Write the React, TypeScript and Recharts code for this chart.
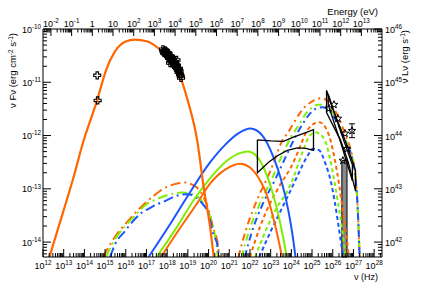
import { ComposedChart, Line, Scatter, XAxis, YAxis, ReferenceArea, ErrorBar } from "recharts";

type P = [number, number];

const mainSync: P[] = [
  [12.31, -14.28], [13.0, -13.4], [13.5, -12.75], [13.92, -12.15], [14.3, -11.7], [14.63, -11.32],
  [14.84, -11.03], [15.05, -10.77], [15.48, -10.42], [15.97, -10.24], [16.45, -10.2], [17.0, -10.23],
  [17.6, -10.37], [18.1, -10.58], [18.63, -10.9], [19.0, -11.35], [19.45, -12.09], [19.79, -13.04],
  [20.05, -13.65], [20.25, -14.28],
];

const solidBlue: P[] = [
  [17.1, -14.28], [18.0, -13.75], [19.0, -13.13], [20.08, -12.5], [20.81, -12.17], [21.44, -11.96],
  [22.02, -11.87], [22.6, -12.0], [23.13, -12.4], [23.5, -12.82], [23.86, -13.42], [24.1, -13.98], [24.2, -14.28],
];
const solidGreen: P[] = [
  [17.49, -14.28], [18.5, -13.7], [19.3, -13.2], [20.08, -12.8], [20.9, -12.47], [21.5, -12.33],
  [21.9, -12.3], [22.3, -12.38], [22.84, -12.77], [23.33, -13.42], [23.6, -13.9], [23.78, -14.28],
];
const solidOrange: P[] = [
  [17.7, -14.28], [18.6, -13.75], [19.4, -13.3], [20.08, -12.9], [20.8, -12.64], [21.53, -12.53],
  [22.0, -12.6], [22.5, -12.85], [22.75, -13.05], [23.13, -13.55], [23.4, -14.0], [23.55, -14.28],
];

const ddOrange: P[] = [
  [14.9, -14.28], [15.48, -13.9], [16.07, -13.62], [16.69, -13.36], [17.32, -13.14], [17.81, -13.0],
  [18.49, -12.9], [18.87, -12.88], [19.21, -12.92], [19.45, -12.98], [19.75, -13.15], [19.99, -13.38],
  [20.23, -13.74], [20.42, -13.98], [20.52, -14.28],
];
const ddGreen: P[] = [
  [15.05, -14.28], [15.34, -14.04], [15.73, -13.81], [15.97, -13.7], [16.5, -13.48], [17.03, -13.28],
  [17.52, -13.19], [18.29, -13.09], [18.73, -13.07], [19.2, -13.1], [19.6, -13.19], [19.75, -13.28],
  [20.18, -13.66], [20.33, -13.92], [20.45, -14.28],
];
const ddBlue: P[] = [
  [15.24, -14.28], [15.48, -14.04], [15.97, -13.79], [16.11, -13.72], [16.84, -13.43], [17.08, -13.38],
  [17.57, -13.28], [17.9, -13.23], [18.39, -13.14], [19.0, -13.1], [19.35, -13.15], [19.7, -13.28],
  [20.0, -13.47], [20.23, -13.85], [20.42, -14.04], [20.5, -14.28],
];

const lddOrange: P[] = [
  [21.44, -14.28], [21.8, -13.78], [22.3, -13.25], [22.99, -12.66], [23.23, -12.42], [23.57, -12.09],
  [23.81, -11.96], [24.34, -11.62], [24.58, -11.49], [24.92, -11.38], [25.45, -11.3], [25.89, -11.4],
  [26.23, -11.62], [26.62, -12.0], [26.96, -12.42], [27.1, -12.75], [27.2, -13.32], [27.3, -14.28],
];
const lddGreen: P[] = [
  [21.6, -14.28], [21.95, -13.8], [22.45, -13.3], [23.1, -12.78], [23.6, -12.33], [24.0, -12.02],
  [24.4, -11.78], [24.68, -11.6], [24.92, -11.5], [25.3, -11.42], [25.6, -11.43], [25.95, -11.55],
  [26.3, -11.8], [26.65, -12.12], [26.96, -12.45], [27.1, -12.78], [27.2, -13.32], [27.3, -14.28],
];
const lddBlue: P[] = [
  [21.75, -14.28], [22.1, -13.8], [22.6, -13.3], [23.25, -12.8], [23.75, -12.38], [24.2, -12.02],
  [24.6, -11.75], [24.92, -11.58], [25.17, -11.5], [25.5, -11.47], [25.8, -11.52], [26.2, -11.75],
  [26.6, -12.1], [26.96, -12.47], [27.1, -12.8], [27.2, -13.32], [27.3, -14.28],
];

const sdOrange: P[] = [
  [22.0, -14.28], [22.5, -13.7], [23.0, -13.25], [23.5, -12.9], [24.0, -12.58], [24.35, -12.28],
  [24.7, -11.95], [25.0, -11.8], [25.35, -11.75], [25.65, -11.85], [25.9, -12.1], [26.1, -12.45],
  [26.3, -12.9], [26.5, -13.45], [26.65, -13.85], [26.78, -14.28],
];
const sdGreen: P[] = [
  [22.25, -14.28], [22.8, -13.75], [23.3, -13.35], [23.8, -13.05], [24.1, -12.79], [24.5, -12.35],
  [24.83, -12.04], [25.15, -11.94], [25.55, -12.04], [25.85, -12.4], [26.05, -12.8], [26.25, -13.25],
  [26.45, -13.75], [26.62, -14.28],
];
const sdBlue: P[] = [
  [22.45, -14.28], [23.0, -13.8], [23.5, -13.4], [24.0, -13.0], [24.34, -12.72], [24.78, -12.38],
  [25.05, -12.25], [25.35, -12.28], [25.65, -12.53], [25.9, -12.85], [26.1, -13.25], [26.3, -13.75], [26.5, -14.28],
];

// Fermi-LAT butterfly (outline, closed)
const lat: P[] = [
  [22.36, -12.08], [23.0, -12.1], [23.62, -12.11], [24.1, -12.03], [24.6, -11.96], [25.07, -11.89],
  [25.07, -12.28], [24.7, -12.24], [24.3, -12.23], [23.8, -12.28], [23.33, -12.38], [22.9, -12.5],
  [22.36, -12.7], [22.36, -12.08],
];
// VHE butterflies
const vheA: P[] = [
  [25.7, -11.15], [26.0, -11.5], [26.38, -11.87], [26.75, -12.25], [27.1, -12.66], [27.1, -13.04],
  [26.75, -12.5], [26.38, -12.09], [26.0, -11.8], [25.7, -11.57], [25.7, -11.15],
];
const vheB: P[] = [
  [25.78, -11.22], [26.4, -11.95], [26.95, -12.55], [26.95, -12.85], [26.4, -12.15], [25.78, -11.42], [25.78, -11.22],
];
const vheBand = { x1: 26.44, x2: 26.69, top: -12.47 };

const optical: P[] = [[14.62, -10.87], [14.64, -11.34]];
const xray: P[] = [
  [17.8, -10.38], [17.82, -10.42], [17.85, -10.45], [17.9, -10.4], [17.92, -10.47], [17.94, -10.42],
  [17.99, -10.49], [18.0, -10.44], [18.04, -10.45], [18.06, -10.52], [18.09, -10.55], [18.12, -10.5],
  [18.14, -10.64], [18.16, -10.58], [18.18, -10.51], [18.21, -10.55], [18.23, -10.6], [18.26, -10.64],
  [18.28, -10.57], [18.3, -10.61], [18.33, -10.66], [18.36, -10.69], [18.38, -10.62], [18.41, -10.66],
  [18.43, -10.72], [18.45, -10.58], [18.47, -10.68], [18.49, -10.74], [18.52, -10.77], [18.55, -10.81],
  [18.57, -10.74], [18.6, -10.79], [18.62, -10.85], [18.65, -10.88], [18.67, -10.92],
];
const vhe: P[] = [[25.82, -11.49], [26.06, -11.42], [26.25, -11.68], [26.59, -11.96], [26.69, -12.25], [26.49, -12.47]];
const vheErr = { x: 26.93, y: -11.91, err: 0.13 };

// axes
const NU_RANGE: P = [12, 28.38];
const F_RANGE: P = [-14.28, -10];
const EV_TO_HZ = 14.383; // log10(1 eV / h)
const L_OFFSET = 56; // nuLnu = 10^56 * nuFnu (paired right axis)

const ORANGE = "#ff6600";
const GREEN = "#80ee00";
const BLUE = "#1a55ff";
const FONT = "'Liberation Sans', Arial, Helvetica, sans-serif";

const W = 421;
const H = 286;
// axes are 1px thick boxes, so the frame ends up at x 43..382, y 29..257
const M = { top: 28, right: 38, bottom: 28, left: 42 };

const pts = (a: P[]) => a.map(([x, y]) => ({ x, y }));

function logTicks(min: number, max: number) {
  const t: number[] = [];
  for (let n = Math.floor(min); n <= Math.ceil(max); n++) {
    for (let k = 1; k < 10; k++) {
      const v = n + Math.log10(k);
      if (v >= min - 1e-9 && v <= max + 1e-9) t.push(v);
    }
  }
  return t;
}
const isMajor = (v: number) => Math.abs(v - Math.round(v)) < 1e-6;

function Pow({ x, y, n, anchor, plain }: { x: number; y: number; n: number; anchor: string; plain?: boolean }) {
  const common = { x, y, textAnchor: anchor as any, fontSize: 9, fill: "#000", fontFamily: FONT };
  if (plain && n === 0) return <text {...common}>1</text>;
  if (plain && n === 1) return <text {...common}>10</text>;
  return (
    <text {...common}>
      10<tspan dy={-3.8} fontSize={6.3}>{n}</tspan>
    </text>
  );
}

const BottomTick = (p: any) => {
  const v = p.payload.value;
  const major = isMajor(v);
  return (
    <g>
      <line x1={p.x} y1={p.y} x2={p.x} y2={p.y - (major ? 8 : 4)} stroke="#000" />
      {major && <Pow x={p.x} y={p.y + 12} n={Math.round(v)} anchor="middle" />}
    </g>
  );
};
const TopTick = (p: any) => {
  const v = p.payload.value;
  const major = isMajor(v);
  return (
    <g>
      <line x1={p.x} y1={p.y} x2={p.x} y2={p.y + (major ? 7 : 3.5)} stroke="#000" />
      {major && <Pow x={p.x} y={p.y - 2.5} n={Math.round(v)} anchor="middle" plain />}
    </g>
  );
};
const LeftTick = (p: any) => {
  const v = p.payload.value;
  const major = isMajor(v);
  return (
    <g>
      <line x1={p.x} y1={p.y} x2={p.x + (major ? 8 : 4)} y2={p.y} stroke="#000" />
      {major && <Pow x={p.x - 2} y={p.y + 3.5} n={Math.round(v)} anchor="end" />}
    </g>
  );
};
const RightTick = (p: any) => {
  const v = p.payload.value;
  const major = isMajor(v);
  return (
    <g>
      <line x1={p.x} y1={p.y} x2={p.x - (major ? 8 : 4)} y2={p.y} stroke="#000" />
      {major && <Pow x={p.x + 3} y={p.y + 4} n={Math.round(v)} anchor="start" />}
    </g>
  );
};

const titleStyle = { fontSize: 9.5, fill: "#000", fontFamily: FONT };

const NuTitle = () => (
  <text x={W - 43} y={H - 6} textAnchor="end" {...titleStyle} fontSize={9}>ν (Hz)</text>
);
const EnergyTitle = () => (
  <text x={W - 43} y={15} textAnchor="end" {...titleStyle}>Energy (eV)</text>
);
const FluxTitle = () => (
  <text x={16} y={33} textAnchor="end" transform="rotate(-90 16 33)" {...titleStyle}>
    ν Fν (erg cm<tspan dy={-3.5} fontSize={6.5}>-2</tspan>
    <tspan dy={3.5}> s</tspan>
    <tspan dy={-3.5} fontSize={6.5}>-1</tspan>
    <tspan dy={3.5}>)</tspan>
  </text>
);
const LumTitle = () => (
  <text x={408} y={30} textAnchor="end" transform="rotate(-90 408 30)" {...titleStyle}>
    ν Lν (erg s<tspan dy={-3.5} fontSize={6.5}>-1</tspan>
    <tspan dy={3.5}>)</tspan>
  </text>
);

const OpenCross = (p: any) => {
  const { cx, cy } = p;
  const s = 3.5;
  const a = 1.2;
  const d = `M${cx - a},${cy - s}H${cx + a}V${cy - a}H${cx + s}V${cy + a}H${cx + a}V${cy + s}H${cx - a}V${cy + a}H${cx - s}V${cy - a}H${cx - a}Z`;
  return <path d={d} fill="none" stroke="#000" strokeWidth={1.1} />;
};

const OpenStar = (p: any) => {
  const { cx, cy } = p;
  const r1 = 4;
  const r2 = 1.7;
  let d = "";
  for (let i = 0; i < 10; i++) {
    const r = i % 2 === 0 ? r1 : r2;
    const ang = -Math.PI / 2 + (i * Math.PI) / 5;
    d += `${i === 0 ? "M" : "L"}${cx + r * Math.cos(ang)},${cy + r * Math.sin(ang)}`;
  }
  return <path d={d + "Z"} fill="none" stroke="#000" strokeWidth={1} />;
};

const AX = { xAxisId: "nu", yAxisId: "flux" };

function curve(key: string, data: P[], color: string, dash?: string, width = 2) {
  return (
    <Line
      key={key}
      {...AX}
      data={pts(data)}
      dataKey="y"
      type="monotone"
      stroke={color}
      strokeWidth={width}
      strokeDasharray={dash}
      dot={false}
      activeDot={false}
      isAnimationActive={false}
    />
  );
}

function outline(key: string, data: P[]) {
  return (
    <Line
      key={key}
      {...AX}
      data={pts(data)}
      dataKey="y"
      type="linear"
      stroke="#000"
      strokeWidth={1.3}
      dot={false}
      activeDot={false}
      isAnimationActive={false}
    />
  );
}

const DD = "10 4 2 4";
const LDD = "7 4 2 4";
const SD = "4 3";

export default function App() {
  const nuTicks = logTicks(NU_RANGE[0], NU_RANGE[1]);
  const evRange: P = [NU_RANGE[0] - EV_TO_HZ, NU_RANGE[1] - EV_TO_HZ];
  const evTicks = logTicks(evRange[0], evRange[1]);
  const fTicks = logTicks(F_RANGE[0], F_RANGE[1]);
  const lRange: P = [F_RANGE[0] + L_OFFSET, F_RANGE[1] + L_OFFSET];
  const lTicks = logTicks(lRange[0], lRange[1]);

  return (
    <div style={{ position: "absolute", left: 0, top: 0, width: W, height: H, background: "#fff", fontFamily: FONT }}>
      <ComposedChart width={W} height={H} margin={M}>
        <XAxis
          xAxisId="nu"
          dataKey="x"
          type="number"
          domain={NU_RANGE}
          allowDataOverflow
          ticks={nuTicks}
          interval={0}
          height={1}
          tickSize={0}
          tickMargin={0}
          tickLine={false}
          tick={BottomTick}
          axisLine={{ stroke: "#000" }}
          label={{ content: NuTitle }}
        />
        <XAxis
          xAxisId="ev"
          orientation="top"
          dataKey="x"
          type="number"
          domain={evRange}
          allowDataOverflow
          ticks={evTicks}
          interval={0}
          height={1}
          tickSize={0}
          tickMargin={0}
          tickLine={false}
          tick={TopTick}
          axisLine={{ stroke: "#000" }}
          label={{ content: EnergyTitle }}
        />
        <YAxis
          yAxisId="flux"
          dataKey="y"
          type="number"
          domain={F_RANGE}
          allowDataOverflow
          ticks={fTicks}
          interval={0}
          width={1}
          tickSize={0}
          tickMargin={0}
          tickLine={false}
          tick={LeftTick}
          axisLine={{ stroke: "#000" }}
          label={{ content: FluxTitle }}
        />
        <YAxis
          yAxisId="lum"
          orientation="right"
          dataKey="y"
          type="number"
          domain={lRange}
          allowDataOverflow
          ticks={lTicks}
          interval={0}
          width={1}
          tickSize={0}
          tickMargin={0}
          tickLine={false}
          tick={RightTick}
          axisLine={{ stroke: "#000" }}
          label={{ content: LumTitle }}
        />

        {/* keeps the energy / luminosity axes bound to something */}
        <Line
          xAxisId="ev"
          yAxisId="lum"
          data={[{ x: evRange[0], y: lRange[0] }, { x: evRange[1], y: lRange[1] }]}
          dataKey="y"
          stroke="none"
          dot={false}
          activeDot={false}
          isAnimationActive={false}
        />

        <ReferenceArea
          {...AX}
          x1={vheBand.x1}
          x2={vheBand.x2}
          y1={F_RANGE[0]}
          y2={vheBand.top}
          fill="#8a8a8a"
          fillOpacity={1}
          stroke="#000"
          strokeWidth={1}
        />

        {curve("ddo", ddOrange, ORANGE, DD)}
        {curve("ddg", ddGreen, GREEN, DD)}
        {curve("ddb", ddBlue, BLUE, DD)}
        {curve("lddo", lddOrange, ORANGE, LDD)}
        {curve("lddg", lddGreen, GREEN, LDD)}
        {curve("lddb", lddBlue, BLUE, LDD)}
        {curve("sdo", sdOrange, ORANGE, SD)}
        {curve("sdg", sdGreen, GREEN, SD)}
        {curve("sdb", sdBlue, BLUE, SD)}
        {curve("sb", solidBlue, BLUE)}
        {curve("sg", solidGreen, GREEN)}
        {curve("so", solidOrange, ORANGE)}
        {curve("main", mainSync, ORANGE, undefined, 2.2)}

        {outline("lat", lat)}
        {outline("vheA", vheA)}
        {outline("vheB", vheB)}

        <Scatter {...AX} data={pts(optical)} shape={OpenCross} isAnimationActive={false} />
        <Scatter {...AX} data={pts(xray)} shape={OpenCross} isAnimationActive={false} />
        <Scatter {...AX} data={pts(vhe)} shape={OpenStar} isAnimationActive={false} />
        <Scatter {...AX} data={[vheErr]} shape={OpenStar} isAnimationActive={false}>
          <ErrorBar dataKey="err" direction="y" width={3} stroke="#000" strokeWidth={1} />
        </Scatter>
      </ComposedChart>
    </div>
  );
}
